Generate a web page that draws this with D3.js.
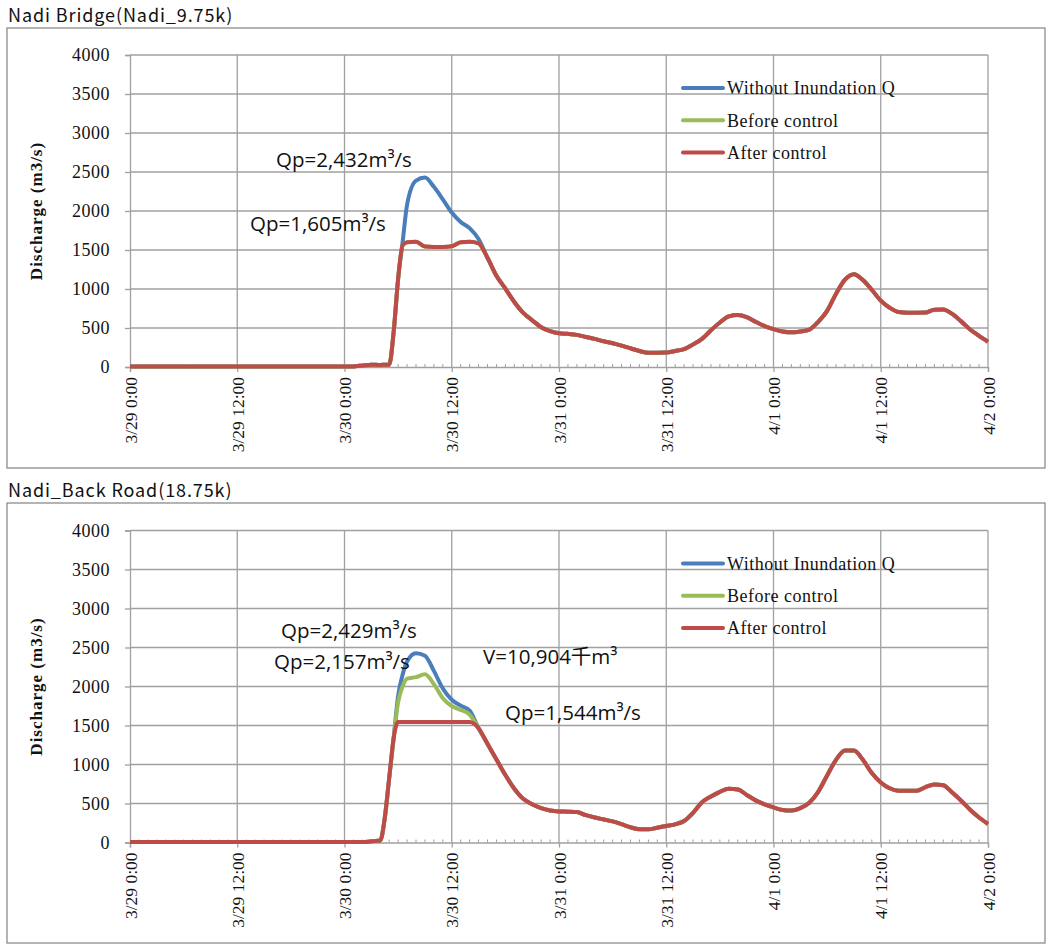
<!DOCTYPE html>
<html><head><meta charset="utf-8">
<script src="https://cdn.jsdelivr.net/npm/d3@7"></script>
<style>body{margin:0;background:#fff}</style>
</head><body><svg id="c" width="1049" height="945"></svg>
<script>
// ---------- DATA ----------
// hours after 3/29 0:00
const hours = [0,1,2,3,4,5,6,7,8,9,10,11,12,13,14,15,16,17,18,19,20,21,22,23,24,25,26,27,28,
  28.5,29,29.5,30,30.5,31,
  32,33,34,35,36,37,38,39,40,41,42,43,44,45,46,47,48,49,50,51,52,53,54,55,56,57,58,59,60,
  61,62,63,64,65,66,67,68,69,70,71,72,73,74,75,76,77,78,79,80,81,82,83,84,85,86,87,88,89,90,
  91,92,93,94,95,96];

const yTicks = [0,500,1000,1500,2000,2500,3000,3500,4000];
const xTickHours = [0,12,24,36,48,60,72,84,96];
const xTickLabels = ["3/29 0:00","3/29 12:00","3/30 0:00","3/30 12:00","3/31 0:00","3/31 12:00","4/1 0:00","4/1 12:00","4/2 0:00"];
const seriesNames = ["Without Inundation Q","Before control","After control"];
const panelTitles = ["Nadi Bridge(Nadi_9.75k)","Nadi_Back Road(18.75k)"];
const yAxisTitle = "Discharge (m3/s)";

// Nadi Bridge
const bridgeWithout = [8,8,8,8,8,8,8,8,8,8,8,8,8,8,8,8,8,8,8,8,8,8,8,8,8,8,20,30,25,
  30,30,450,1130,1600,2080,
  2390,2428,2310,2150,1980,1860,1780,1640,1400,1170,1005,834,694,600,510,460,432,425,412,385,360,330,305,275,240,205,183,183,185,
  205,230,290,360,470,570,650,667,640,580,525,485,455,444,455,480,580,720,940,1120,1190,1115,990,850,760,705,696,696,698,735,
  738,680,585,480,400,324];
const bridgeBefore = [8,8,8,8,8,8,8,8,8,8,8,8,8,8,8,8,8,8,8,8,8,8,8,8,8,8,20,30,25,
  30,30,450,1130,1560,1600,
  1605,1545,1540,1540,1548,1600,1605,1585,1400,1170,1005,834,694,600,510,460,432,425,412,385,360,330,305,275,240,205,183,183,185,
  205,230,290,360,470,570,650,667,640,580,525,485,455,444,455,480,580,720,940,1120,1190,1115,990,850,760,705,696,696,698,735,
  738,680,585,480,400,324];
const bridgeAfter = [8,8,8,8,8,8,8,8,8,8,8,8,8,8,8,8,8,8,8,8,8,8,8,8,8,8,20,30,25,
  30,30,450,1130,1560,1600,
  1605,1545,1540,1540,1548,1600,1605,1585,1400,1170,1005,834,694,600,510,460,432,425,412,385,360,330,305,275,240,205,183,183,185,
  205,230,290,360,470,570,650,667,640,580,525,485,455,444,455,480,580,720,940,1120,1190,1115,990,850,760,705,696,696,698,735,
  738,680,585,480,400,324];

// Nadi Back Road
const backWithout = [5,5,5,5,5,5,5,5,5,5,5,5,5,5,5,5,5,5,5,5,5,5,5,5,5,5,5,15,25,
  310,825,1340,1880,2150,2320,
  2425,2395,2200,1975,1830,1755,1690,1465,1265,1065,865,690,560,490,440,410,398,395,390,350,320,295,270,235,195,170,169,190,212,
  233,275,380,515,590,650,688,680,610,540,490,450,418,410,440,510,650,860,1060,1180,1180,1060,890,770,695,664,664,664,710,745,
  735,640,535,420,320,237];
const backBefore = [5,5,5,5,5,5,5,5,5,5,5,5,5,5,5,5,5,5,5,5,5,5,5,5,5,5,5,15,25,
  310,825,1340,1800,2000,2100,
  2120,2157,2030,1850,1750,1700,1640,1465,1265,1065,865,690,560,490,440,410,398,395,390,350,320,295,270,235,195,170,169,190,212,
  233,275,380,515,590,650,688,680,610,540,490,450,418,410,440,510,650,860,1060,1180,1180,1060,890,770,695,664,664,664,710,745,
  735,640,535,420,320,237];
const backAfter = [5,5,5,5,5,5,5,5,5,5,5,5,5,5,5,5,5,5,5,5,5,5,5,5,5,5,5,15,25,
  310,825,1340,1544,1544,1544,
  1544,1544,1544,1544,1544,1544,1544,1465,1265,1065,865,690,560,490,440,410,398,395,390,350,320,295,270,235,195,170,169,190,212,
  233,275,380,515,590,650,688,680,610,540,490,450,418,410,440,510,650,860,1060,1180,1180,1060,890,770,695,664,664,664,710,745,
  735,640,535,420,320,237];

const bridgeNotes = ["Qp=2,432m³/s","Qp=1,605m³/s"];
const backNotes = ["Qp=2,429m³/s","Qp=2,157m³/s","V=10,904千m³","Qp=1,544m³/s"];

// ---------- LAYOUT ----------
const colors = ["#4a7ebb","#9bbb59","#be4b48"];
const panels = [
  {title: panelTitles[0], titleY: 22, box: [7,28,1038,440], top: 55, bottom: 367,
   series: [bridgeWithout, bridgeBefore, bridgeAfter],
   notes: bridgeNotes, notePos: [[276,160],[250,224]]},
  {title: panelTitles[1], titleY: 497, box: [7,503,1038,440], top: 530.5, bottom: 842.5,
   series: [backWithout, backBefore, backAfter],
   notes: backNotes, notePos: [[281,631],[274,662],[483,657],[505,713]]}
];
const left = 130, right = 988;
const svg = d3.select("#c");
const gridColor = "#a0a0a0";
const serif = "'Liberation Serif','Times New Roman',serif";

const x = d3.scaleLinear().domain([0,96]).range([left,right]);

panels.forEach(p => {
  const g = svg.append("g");
  const y = d3.scaleLinear().domain([0,4000]).range([p.bottom,p.top]);

  g.append("rect").attr("x",p.box[0]).attr("y",p.box[1]).attr("width",p.box[2]).attr("height",p.box[3])
    .attr("fill","none").attr("stroke","#8c8c8c").attr("stroke-width",1.3);
  g.append("text").attr("x",8).attr("y",p.titleY).text(p.title)
    .attr("font-family","'Noto Sans CJK JP','Noto Sans',sans-serif").attr("font-size",18)
    .attr("letter-spacing",0.9).attr("fill","#111");

  // horizontal gridlines
  g.selectAll(".hg").data(yTicks.filter(v=>v>0)).join("line")
    .attr("x1",left).attr("x2",right).attr("y1",d=>y(d)).attr("y2",d=>y(d))
    .attr("stroke",gridColor).attr("stroke-width",1.3);
  // vertical gridlines
  g.selectAll(".vg").data(xTickHours.filter(v=>v>0)).join("line")
    .attr("x1",d=>x(d)).attr("x2",d=>x(d)).attr("y1",p.top).attr("y2",p.bottom)
    .attr("stroke",gridColor).attr("stroke-width",1.3);

  // y axis
  const ya = g.append("g").attr("transform",`translate(${left},0)`)
    .call(d3.axisLeft(y).tickValues(yTicks).tickSize(5).tickPadding(15).tickFormat(d3.format("d")));
  ya.select(".domain").attr("stroke",gridColor).attr("stroke-width",1.3);
  ya.selectAll(".tick line").attr("stroke",gridColor).attr("stroke-width",1.3);
  ya.selectAll("text").attr("font-family",serif).attr("font-size",18).attr("letter-spacing",0.5).attr("fill","#111");

  // x axis
  const xa = g.append("g").attr("transform",`translate(0,${p.bottom})`)
    .call(d3.axisBottom(x).tickValues(xTickHours).tickSize(5).tickFormat((d,i)=>xTickLabels[i]));
  xa.select(".domain").attr("stroke",gridColor).attr("stroke-width",1.3);
  xa.selectAll(".tick line").attr("stroke",gridColor).attr("stroke-width",1.3);
  xa.selectAll("text").attr("font-family",serif).attr("font-size",17.5).attr("fill","#111")
    .attr("transform","rotate(-90)").attr("text-anchor","end").attr("x",-10).attr("y",0).attr("dy","0.35em");
  // minor ticks (hourly)
  g.selectAll(".mt").data(d3.range(0,97).filter(h=>h%12!==0)).join("line")
    .attr("x1",d=>x(d)).attr("x2",d=>x(d)).attr("y1",p.bottom).attr("y2",p.bottom-3)
    .attr("stroke",gridColor).attr("stroke-width",1);

  // y axis title
  g.append("text").attr("transform",`translate(42,${(p.top+p.bottom)/2}) rotate(-90)`)
    .attr("text-anchor","middle").attr("font-family",serif).attr("font-weight","bold").attr("font-size",17)
    .attr("letter-spacing",1).attr("fill","#111").text(yAxisTitle);

  // series
  const line = d3.line().x((d,i)=>x(hours[i])).y(d=>y(d)).curve(d3.curveMonotoneX);
  p.series.forEach((s,i)=>{
    g.append("path").datum(s).attr("d",line).attr("fill","none")
      .attr("stroke",colors[i]).attr("stroke-width",4).attr("stroke-linejoin","round");
  });

  // legend
  seriesNames.forEach((n,i)=>{
    const ly = p.top + 33 + i*32.3;
    g.append("line").attr("x1",683).attr("x2",723).attr("y1",ly).attr("y2",ly)
      .attr("stroke",colors[i]).attr("stroke-width",4).attr("stroke-linecap","round");
    g.append("text").attr("x",727).attr("y",ly).attr("dy","0.35em").text(n)
      .attr("font-family",serif).attr("font-size",18).attr("letter-spacing",0.5).attr("fill","#111");
  });

  // notes
  p.notes.forEach((t,i)=>{
    g.append("text").attr("x",p.notePos[i][0]).attr("y",p.notePos[i][1]).attr("dy","0.35em").text(t)
      .attr("font-family","'Open Sans','Noto Sans','Noto Sans CJK JP',sans-serif").attr("font-size",20.5).attr("fill","#111");
  });
});
</script></body></html>
